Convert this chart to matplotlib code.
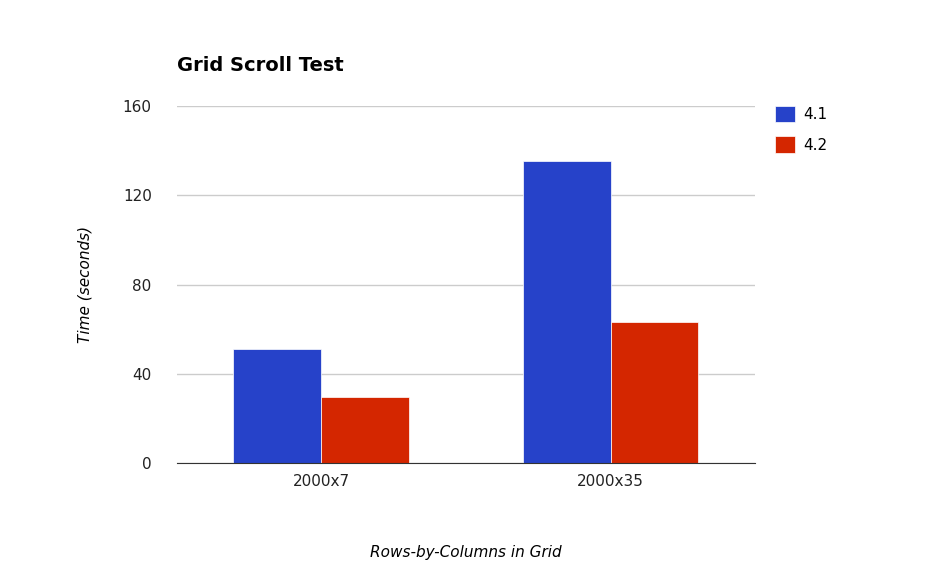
import matplotlib.pyplot as plt
import numpy as np

categories = ["2000x7", "2000x35"]
series_names = ["4.1", "4.2"]
v41 = [51, 135.5]
v42 = [29.7, 63.2]
colors = ["#2642c9", "#d42600"]

fig = plt.figure(figsize=(9.3, 5.71), dpi=100)
ax = fig.add_axes([0.19, 0.189, 0.622, 0.625])
x = np.arange(len(categories))
w = 0.304
ax.bar(x - w / 2, v41, w, color=colors[0], label=series_names[0], edgecolor="white", linewidth=0.5)
ax.bar(x + w / 2, v42, w, color=colors[1], label=series_names[1], edgecolor="white", linewidth=0.5)
ax.set_xlim(-0.5, 1.5)
ax.set_ylim(0, 160)
ax.set_yticks([0, 40, 80, 120, 160])
ax.set_xticks(x)
ax.set_xticklabels(categories)
ax.yaxis.grid(True, color="#cccccc", linewidth=1)
ax.set_axisbelow(True)
for s in ["top", "right", "left"]:
    ax.spines[s].set_visible(False)
ax.spines["bottom"].set_color("#333333")
ax.tick_params(length=0, labelsize=11, colors="#222222")
ax.tick_params(axis="y", pad=18)
ax.tick_params(axis="x", pad=8)
ax.set_ylabel("Time (seconds)", style="italic", fontsize=11, labelpad=22)
ax.set_xlabel("Rows-by-Columns in Grid", style="italic", fontsize=11, labelpad=40)
fig.text(0.19, 0.875, "Grid Scroll Test", fontsize=14, fontweight="bold")
ax.legend(loc="upper left", bbox_to_anchor=(1.01, 1.04), frameon=False, fontsize=11,
          handlelength=1.3, handleheight=1.3, handletextpad=0.6, labelspacing=0.9)
fig.savefig("out.png")
